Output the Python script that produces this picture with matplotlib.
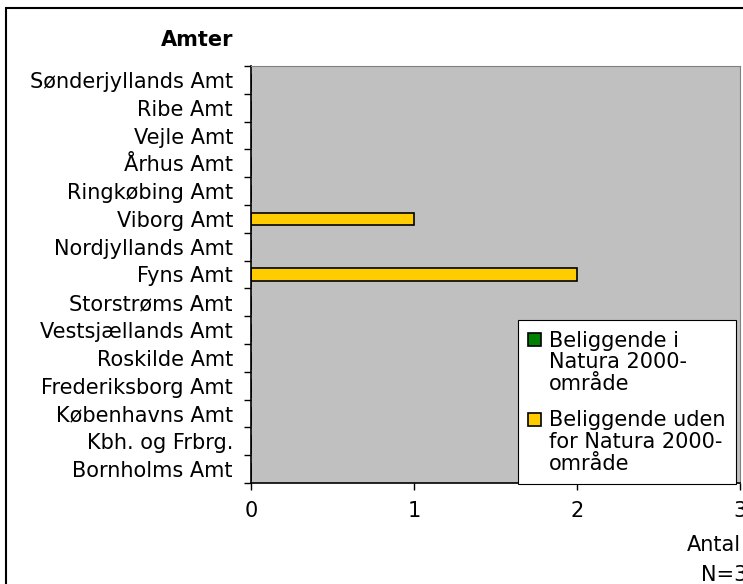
import numpy as np
import matplotlib
matplotlib.use("Agg")
import matplotlib.pyplot as plt
from matplotlib.patches import Rectangle
from matplotlib.legend_handler import HandlerPatch

plt.rcParams['font.family'] = ['DejaVu Sans']

amter = ["Sønderjyllands Amt", "Ribe Amt", "Vejle Amt", "Århus Amt",
         "Ringkøbing Amt", "Viborg Amt", "Nordjyllands Amt", "Fyns Amt",
         "Storstrøms Amt", "Vestsjællands Amt", "Roskilde Amt",
         "Frederiksborg Amt", "Københavns Amt", "Kbh. og Frbrg.",
         "Bornholms Amt"]
i_natura = [0, 0, 0, 0, 0, 0, 0, 0, 0, 0, 0, 0, 0, 0, 0]
uden_natura = [0, 0, 0, 0, 0, 1, 0, 2, 0, 0, 0, 0, 0, 0, 0]
serie_navne = ["Beliggende i\nNatura 2000-\nområde",
               "Beliggende uden\nfor Natura 2000-\nområde"]
farver = ['#008000', '#FFCC00']
x_ticks = [0, 1, 2, 3]

FS = 15
LS = 1.1


class TopSquare(HandlerPatch):
    # legend square on the first line of a multiline label (like Excel)
    def create_artists(self, legend, orig_handle, xdescent, ydescent,
                       width, height, fontsize, trans):
        p = Rectangle((-xdescent, -ydescent + LS * fontsize), width, height,
                      facecolor=orig_handle.get_facecolor(),
                      edgecolor='black', linewidth=1.2, transform=trans)
        return [p]


W, H = 743, 584
fig = plt.figure(figsize=(W / 100, H / 100), dpi=100)
ax = fig.add_axes([251 / W, 1 - 483 / H, (740 - 251) / W, (483 - 66) / H])
ax.set_facecolor('#C0C0C0')

n = len(amter)
pos = np.arange(n)
ax.barh(pos + 0.22, i_natura, height=0.45, color=farver[0], edgecolor='black', linewidth=1.2)
ax.barh(pos, uden_natura, height=0.45, color=farver[1], edgecolor='black', linewidth=1.2)

ax.set_ylim(n - 0.5, -0.5)
ax.set_xlim(0, 3)
ax.set_yticks(np.arange(n + 1) - 0.5)
ax.set_yticklabels([])
ax.set_yticks(pos, minor=True)
ax.set_yticklabels(amter, minor=True, fontsize=FS)
ax.tick_params(axis='y', which='minor', length=0, pad=13)
ax.tick_params(axis='y', which='major', length=5, width=1)
ax.set_xticks(x_ticks)
ax.set_xticklabels([str(t) for t in x_ticks], fontsize=FS)
ax.tick_params(axis='x', length=5, width=1, pad=8)

for s in ['top', 'right']:
    ax.spines[s].set_color('#808080')
for s in ['left', 'bottom']:
    ax.spines[s].set_color('black')
    ax.spines[s].set_linewidth(1.2)

handles = [Rectangle((0, 0), 1, 1, facecolor=c, edgecolor='black') for c in farver]
leg = fig.legend(handles, serie_navne, loc='lower right',
                 bbox_to_anchor=(736 / W, 1 - 484 / H), fontsize=FS,
                 fancybox=False, framealpha=1, edgecolor='black',
                 handlelength=0.6, handleheight=0.6, handletextpad=0.4,
                 borderpad=0.5, labelspacing=0.8, borderaxespad=0,
                 handler_map={Rectangle: TopSquare()})
leg.get_frame().set_linewidth(0.8)
for t in leg.get_texts():
    t.set_linespacing(LS)

fig.text(233 / W, 1 - 40 / H, "Amter", fontsize=FS, fontweight='bold',
         ha='right', va='center')
fig.text(741 / W, 1 - 545 / H, "Antal", fontsize=FS, ha='right', va='center')
fig.text(747 / W, 1 - 575 / H, "N=3", fontsize=FS, ha='right', va='center')

fig.patches.append(Rectangle((6 / W, -0.1), 2, 1 - 8 / H + 0.1,
                             transform=fig.transFigure, fill=False,
                             edgecolor='black', linewidth=1.5))

fig.savefig("out.png", dpi=100)
